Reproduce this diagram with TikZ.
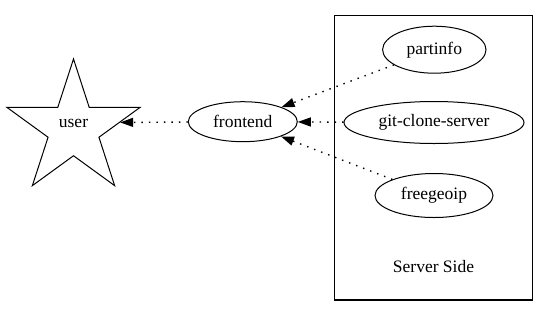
\documentclass[tikz,border=0pt]{standalone}
\usepackage{fontspec}
\setmainfont{Liberation Serif}
\usetikzlibrary{shapes.geometric,arrows.meta}
\begin{document}
\begin{tikzpicture}[x=1pt,y=-1pt,
  every node/.style={font=\fontsize{17.5}{20}\selectfont},
  oval/.style={draw,line width=1pt,ellipse,inner sep=0pt},
  flow/.style={line width=1.4pt,dash pattern=on 1.4pt off 6.1pt,
    -{Triangle[length=13pt,width=9pt]}},
  cluster/.style={draw,line width=1.1pt}]
  \useasboundingbox (0,0) rectangle (549,317);

  % server-side cluster
  \node[cluster,minimum width=198.4pt,minimum height=284.3pt,inner sep=0pt]
    (servers) at (433.5,157.85) {};
  \node (serverlabel) at (433.5,267) {Server Side};

  % services inside the cluster
  \node[oval,minimum width=103.4pt,minimum height=47pt] (partinfo) at (434.3,49.7) {partinfo};
  \node[oval,minimum width=180pt,minimum height=42pt] (git) at (434,122.5) {git-clone-server};
  \node[oval,minimum width=118pt,minimum height=44pt] (freegeoip) at (434,195.5) {freegeoip};

  % frontend and user
  \node[oval,minimum width=109pt,minimum height=40pt] (frontend) at (242.8,121.7) {frontend};
  \node[draw,line width=1pt,star,star points=5,star point ratio=2.618,
    minimum size=140pt,inner sep=0pt] (user) at (73.5,129) {};
  \node (userlabel) at (73.5,123) {user};

  % connectors
  \draw[flow] (partinfo) -- (frontend);
  \draw[flow] (git) -- (frontend);
  \draw[flow] (freegeoip) -- (frontend);
  \draw[flow] (frontend) -- (user.8);
\end{tikzpicture}
\end{document}
